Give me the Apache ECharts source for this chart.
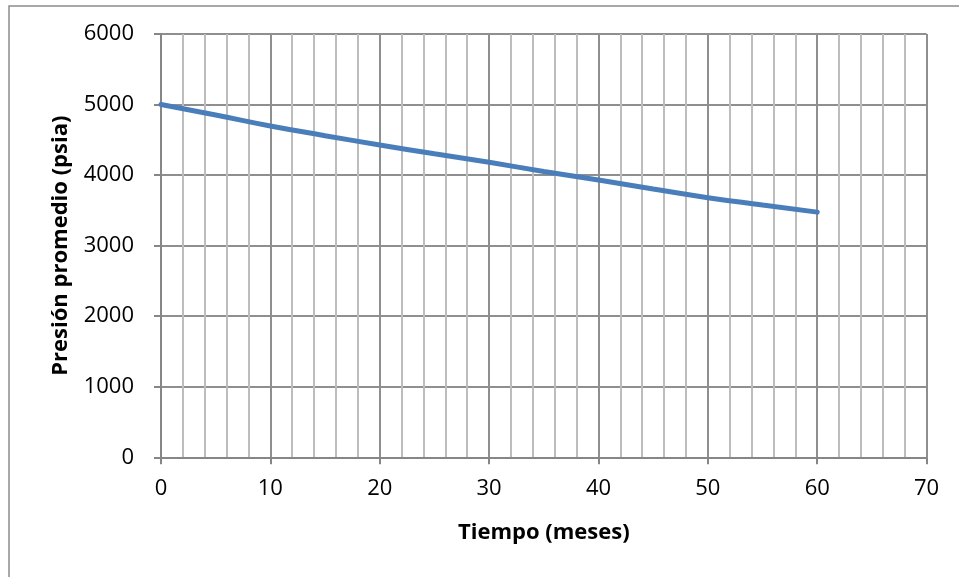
<!DOCTYPE html>
<html>
<head>
<meta charset="utf-8">
<script src="https://cdn.jsdelivr.net/npm/echarts@6/dist/echarts.min.js"></script>
<style>
html,body{margin:0;padding:0;background:#fff;}
#chart{width:959px;height:577px;}
</style>
</head>
<body>
<div id="chart"></div>
<script>
const months = [0, 5, 10, 15, 20, 25, 30, 35, 40, 45, 50, 55, 60];
const pressure = [5000, 4852, 4696, 4559, 4427, 4303, 4181, 4052, 3930, 3803, 3680, 3576, 3475];
const xAxisTitle = 'Tiempo (meses)';
const yAxisTitle = 'Presión promedio (psia)';

const font = '"Open Sans", "Noto Sans", sans-serif';
const chart = echarts.init(document.getElementById('chart'));
chart.setOption({
  animation: false,
  backgroundColor: '#fff',
  graphic: [{
    type: 'rect',
    shape: {x: 9, y: 6, width: 1200, height: 900},
    style: {fill: 'none', stroke: '#8c8c8c', lineWidth: 1.5},
    silent: true
  }],
  grid: {left: 161, right: 32.4, top: 34, bottom: 119.7, containLabel: false},
  xAxis: {
    type: 'value', min: 0, max: 70, interval: 10,
    name: xAxisTitle, nameLocation: 'middle', nameGap: 64,
    nameTextStyle: {fontFamily: font, fontSize: 22, fontWeight: 'bold', color: '#000'},
    axisLine: {show: true, onZero: false, lineStyle: {color: '#868686', width: 2}},
    axisTick: {show: true, length: 7, lineStyle: {color: '#868686', width: 2}},
    axisLabel: {fontFamily: font, fontSize: 22, color: '#000', margin: 20,
      formatter: v => String(v)},
    splitLine: {show: true, lineStyle: {color: '#8f8f8f', width: 2}},
    minorTick: {show: false, splitNumber: 5},
    minorSplitLine: {show: true, lineStyle: {color: '#bdbdbd', width: 2}}
  },
  yAxis: {
    type: 'value', min: 0, max: 6000, interval: 1000,
    name: yAxisTitle, nameLocation: 'middle', nameGap: 89,
    nameTextStyle: {fontFamily: font, fontSize: 22, fontWeight: 'bold', color: '#000'},
    axisLine: {show: true, lineStyle: {color: '#868686', width: 2}},
    axisTick: {show: true, length: 7, lineStyle: {color: '#868686', width: 2}},
    axisLabel: {fontFamily: font, fontSize: 22, color: '#000', margin: 27,
      formatter: v => String(v)},
    splitLine: {show: true, lineStyle: {color: '#8f8f8f', width: 2}}
  },
  series: [{
    type: 'line',
    data: months.map((m, i) => [m, pressure[i]]),
    smooth: true,
    showSymbol: false,
    lineStyle: {color: '#4a7ebb', width: 5, cap: 'round'},
    itemStyle: {color: '#4a7ebb'}
  }]
});
</script>
</body>
</html>
